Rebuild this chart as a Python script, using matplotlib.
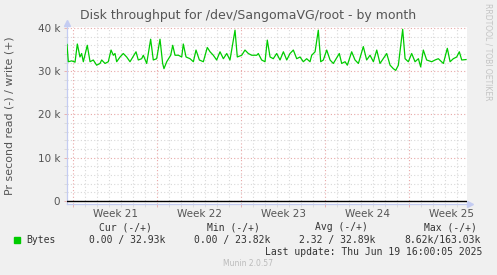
import matplotlib
matplotlib.use("Agg")
import matplotlib.pyplot as plt
from matplotlib.ticker import MultipleLocator, FuncFormatter
from matplotlib.transforms import blended_transform_factory

# ---- data ----
# time in days from the left edge of the graph, write throughput in bytes/s
days = [0.00, 0.11, 0.39, 0.67, 0.86, 1.08, 1.22, 1.36, 1.69, 1.92, 2.19, 2.47,
        2.75, 2.89, 3.17, 3.44, 3.67, 3.86, 4.00, 4.14, 4.42, 4.69, 4.97, 5.25,
        5.75, 5.94, 6.22, 6.36, 6.64, 6.97, 7.19, 7.47, 7.75, 7.97, 8.08, 8.31,
        8.64, 8.81, 9.00, 9.28, 9.56, 9.69, 9.92, 10.25, 10.53, 10.75, 11.03,
        11.36, 11.69, 11.92, 12.19, 12.47, 12.75, 13.03, 13.31, 13.58, 14.00,
        14.19, 14.56, 14.83, 15.11, 15.39, 15.81, 15.94, 16.22, 16.50, 16.69,
        16.92, 17.19, 17.47, 17.75, 18.03, 18.31, 18.58, 18.86, 19.14, 19.42,
        19.69, 19.97, 20.25, 20.39, 20.67, 20.94, 21.14, 21.36, 21.64, 21.92,
        22.19, 22.69, 22.89, 23.17, 23.36, 23.72, 24.00, 24.28, 24.69, 24.97,
        25.25, 25.53, 25.81, 26.08, 26.64, 26.92, 27.19, 27.39, 27.61, 27.97,
        28.17, 28.44, 28.72, 29.00, 29.28, 29.47, 29.69, 29.97, 30.39, 30.67,
        30.94, 31.36, 31.69, 31.92, 32.19, 32.47, 32.69, 32.89, 33.25]
write_kb = [36.2, 32.2, 32.4, 32.1, 36.3, 33.3, 34.1, 32.2, 36.0, 32.2, 32.6, 31.4,
            31.8, 32.6, 31.8, 32.2, 34.9, 33.7, 34.1, 32.2, 33.3, 34.1, 33.3, 32.2,
            34.5, 32.6, 32.9, 33.7, 31.8, 37.4, 32.6, 32.9, 37.4, 31.8, 30.6, 32.2,
            33.7, 36.0, 33.7, 33.7, 33.3, 36.3, 33.3, 32.9, 32.2, 34.9, 32.6,
            32.2, 35.5, 34.5, 33.7, 32.6, 34.5, 32.9, 34.1, 32.6, 39.5,
            33.3, 33.7, 34.9, 34.1, 33.7, 33.7, 34.1, 32.6, 32.2, 37.2,
            33.3, 32.9, 34.1, 32.6, 34.5, 32.6, 34.1, 34.9, 32.9, 33.3,
            32.2, 32.9, 32.2, 33.7, 34.5, 39.5, 32.2, 32.6, 34.9, 32.6,
            31.8, 34.1, 31.8, 32.2, 31.4, 34.5, 32.6, 31.8, 35.7, 32.6,
            33.7, 32.2, 34.9, 31.8, 34.1, 31.4, 30.6, 30.2, 31.4, 39.7,
            32.9, 32.2, 34.1, 32.2, 32.9, 31.0, 34.9, 32.6, 32.2, 32.6,
            32.9, 31.8, 35.3, 32.2, 32.9, 33.3, 34.5, 32.6, 32.7]
write_bytes = [v * 1000 for v in write_kb]

x_span = (0.0, 33.33)
week_starts = [0.5, 7.5, 14.5, 21.5, 28.5]
week_labels = ["Week 21", "Week 22", "Week 23", "Week 24", "Week 25"]

legend_series = "Bytes"
legend_cols = ["Cur (-/+)", "Min (-/+)", "Avg (-/+)", "Max (-/+)"]
legend_vals = ["0.00 / 32.93k", "0.00 / 23.82k", "2.32 / 32.89k", "8.62k/163.03k"]
last_update = "Last update: Thu Jun 19 16:00:05 2025"
title = "Disk throughput for /dev/SangomaVG/root - by month"
ylabel = "Pr second read (-) / write (+)"

# ---- styling ----
BG = "#F0F0F0"
GREEN = "#00CC00"
AXIS_C = "#C4CCF2"
MINOR_C = "#D8D8D8"
MAJOR_C = "#E8A8A8"
TXT = "#555555"
LEG = "#333333"

W, H = 497, 275
fig = plt.figure(figsize=(W / 100, H / 100), dpi=100, facecolor=BG)
ax = fig.add_axes([67 / W, 1 - 203.5 / H, 400 / W, 176.5 / H])
ax.set_facecolor("white")

ax.set_xlim(*x_span)
ax.set_ylim(-580, 40230)

ax.xaxis.set_major_locator(MultipleLocator(7, offset=0.5))
ax.xaxis.set_minor_locator(MultipleLocator(1, offset=0.5))
ax.yaxis.set_major_locator(MultipleLocator(10000))
ax.yaxis.set_minor_locator(MultipleLocator(2000))
ax.yaxis.set_major_formatter(FuncFormatter(lambda v, p: "0" if v == 0 else f"{int(v/1000)} k"))
ax.xaxis.set_major_formatter(FuncFormatter(lambda v, p: ""))

ax.grid(which="minor", color=MINOR_C, linestyle=(0, (1, 2)), linewidth=0.8)
ax.grid(which="major", color=MAJOR_C, linestyle=(0, (1, 2)), linewidth=0.8)
ax.set_axisbelow(True)

ax.tick_params(axis="both", which="both", direction="out", length=2, width=0.6,
               colors=MINOR_C, labelcolor=TXT, labelsize=7.5, pad=3)
ax.tick_params(axis="x", which="major", colors=MAJOR_C, labelcolor=TXT)
ax.tick_params(axis="y", which="major", colors=MAJOR_C, labelcolor=TXT)

for s in ["top", "right"]:
    ax.spines[s].set_visible(False)
for s in ["left", "bottom"]:
    ax.spines[s].set_color(AXIS_C)
    ax.spines[s].set_linewidth(0.9)

# arrow heads on axes
ax.plot([0], [1.025], marker="^", color=AXIS_C, markersize=4, transform=ax.transAxes, clip_on=False)
ax.plot([1.008], [0], marker=">", color=AXIS_C, markersize=4, transform=ax.transAxes, clip_on=False)

# zero line and data
ax.axhline(0, color="black", linewidth=1.0, zorder=3)
ax.plot(days, write_bytes, color=GREEN, linewidth=0.9, zorder=4)

# week labels in the middle of each week
tr = blended_transform_factory(ax.transData, ax.transAxes)
for ws, lab in zip(week_starts, week_labels):
    ax.text(ws + 3.5, -0.06, lab, transform=tr, ha="center", va="center",
            fontsize=7.5, color=TXT)

# title, y-label, side text
fig.text(248 / W, 1 - 15 / H, title, ha="center", va="center", fontsize=9.0, color=TXT)
fig.text(10 / W, 1 - 116 / H, ylabel, ha="center", va="center", rotation=90,
         fontsize=7.9, color=TXT)
fig.text(488 / W, 1 - 52 / H, "RRDTOOL / TOBI OETIKER", ha="center", va="center",
         rotation=270, fontsize=5.5, color="#C4C4C4")

# legend
mono = "DejaVu Sans Mono"
col_centers = [125, 233, 341, 450]
for cx, lab in zip(col_centers, legend_cols):
    fig.text(cx / W, 1 - 227 / H, lab, ha="center", va="center", family=mono,
             fontsize=7, color=LEG)
val_left = [89, 194, 299, 404]
for lx, v in zip(val_left, legend_vals):
    fig.text(lx / W, 1 - 240 / H, v, ha="left", va="center", family=mono,
             fontsize=7, color=LEG)
fig.patches.append(plt.Rectangle((14 / W, 1 - 243 / H), 6 / W, 6 / H,
                                 transform=fig.transFigure, color=GREEN))
fig.text(26 / W, 1 - 240 / H, legend_series, ha="left", va="center", family=mono,
         fontsize=7, color=LEG)
fig.text(482 / W, 1 - 252 / H, last_update, ha="right", va="center", family=mono,
         fontsize=7, color=LEG)
fig.text(248 / W, 1 - 264 / H, "Munin 2.0.57", ha="center", va="center",
         fontsize=5.5, color="#BBBBBB")

fig.savefig("out.png", dpi=100, facecolor=BG)
